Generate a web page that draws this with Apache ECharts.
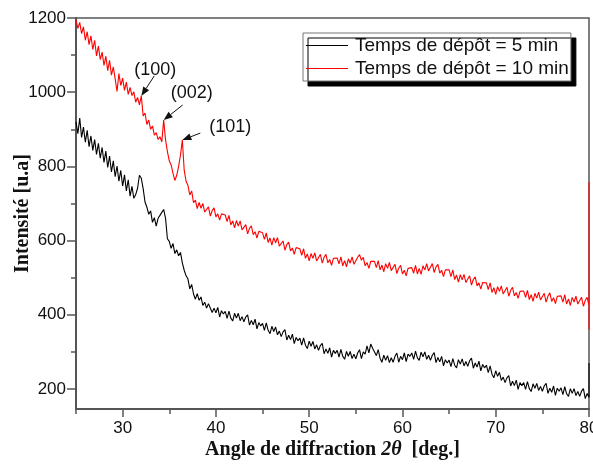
<!DOCTYPE html>
<html>
<head>
<meta charset="utf-8">
<script src="https://cdn.jsdelivr.net/npm/echarts@6/dist/echarts.min.js"></script>
<style>
  html, body { margin: 0; padding: 0; background: #fff; }
  #chart { width: 593px; height: 464px; }
</style>
</head>
<body>
<div id="chart"></div>
<script>
// XRD scans, 2θ from 25° to 80° in 0.2° steps
const angleStart = 25;
const angleStep = 0.2;

// Deposition time 5 min
const intensity5min = [
  920, 888, 930, 878, 906, 865, 897, 853, 882, 843,
  872, 832, 862, 822, 851, 811, 841, 797, 828, 785,
  815, 772, 801, 760, 789, 747, 777, 734, 764, 720,
  746, 714, 724, 741, 776, 768, 740, 704, 690, 671,
  680, 649, 662, 639, 660, 668, 676, 684, 660, 605,
  598, 579, 592, 565, 575, 559, 568, 540, 520, 505,
  497, 470, 482, 456, 442, 457, 439, 448, 425, 434,
  418, 430, 435, 406, 418, 405, 420, 394, 411, 402,
  409, 390, 410, 391, 383, 404, 391, 404, 384, 395,
  381, 394, 400, 372, 385, 373, 388, 362, 379, 370,
  377, 358, 378, 358, 349, 369, 355, 367, 346, 356,
  341, 354, 360, 332, 345, 333, 348, 322, 339, 330,
  337, 318, 338, 318, 309, 329, 315, 328, 308, 319,
  304, 317, 323, 295, 308, 296, 311, 286, 304, 296,
  304, 286, 307, 288, 280, 301, 288, 301, 282, 294,
  281, 297, 306, 282, 300, 294, 316, 297, 321, 310,
  313, 290, 306, 283, 272, 291, 277, 290, 271, 284,
  272, 288, 297, 272, 288, 279, 297, 274, 294, 288,
  297, 280, 302, 284, 277, 299, 287, 300, 280, 291,
  277, 291, 298, 271, 285, 273, 288, 262, 279, 270,
  278, 260, 282, 264, 257, 279, 267, 281, 262, 274,
  261, 276, 283, 256, 270, 259, 275, 249, 266, 257,
  264, 244, 262, 240, 230, 249, 234, 245, 223, 232,
  217, 230, 236, 208, 221, 209, 224, 199, 217, 209,
  217, 199, 220, 201, 193, 214, 202, 215, 196, 207,
  194, 208, 215, 188, 202, 191, 208, 183, 202, 194,
  203, 185, 206, 187, 180, 201, 188, 201, 182, 193,
  180, 194, 201, 174, 188, 177
];
// detector readings recorded at the final angle
const tail5min = [270, 178];

// Deposition time 10 min
const intensity10min = [
  1195, 1172, 1188, 1158, 1176, 1140, 1163, 1128, 1152, 1115,
  1140, 1098, 1124, 1088, 1108, 1072, 1097, 1058, 1086, 1046,
  1068, 1036, 1002, 1050, 1018, 1038, 1005, 1027, 994, 1013,
  991, 1001, 973, 986, 966, 990, 936, 944, 913, 925,
  900, 909, 884, 891, 873, 880, 866, 925, 872, 840,
  815, 804, 781, 762, 776, 800, 830, 871, 790, 760,
  749, 723, 734, 702, 709, 686, 703, 687, 700, 677,
  676, 691, 666, 681, 688, 664, 672, 655, 672, 672,
  669, 651, 668, 642, 653, 634, 654, 639, 653, 629,
  628, 643, 618, 633, 640, 616, 624, 607, 625, 626,
  621, 603, 621, 595, 607, 588, 608, 594, 608, 585,
  584, 599, 574, 589, 596, 572, 580, 563, 581, 582,
  578, 560, 578, 552, 564, 545, 565, 552, 567, 545,
  547, 563, 539, 555, 563, 540, 549, 533, 552, 554,
  553, 537, 556, 532, 546, 529, 551, 539, 556, 536,
  539, 555, 562, 547, 555, 532, 541, 525, 544, 546,
  544, 527, 546, 521, 534, 516, 538, 525, 541, 519,
  521, 536, 511, 526, 533, 510, 520, 505, 525, 528,
  527, 512, 533, 510, 525, 509, 532, 521, 538, 518,
  522, 538, 514, 529, 536, 512, 520, 503, 521, 523,
  521, 503, 521, 495, 507, 488, 508, 494, 509, 487,
  490, 505, 480, 495, 502, 478, 486, 469, 487, 489,
  486, 468, 486, 460, 473, 455, 476, 463, 478, 456,
  458, 474, 450, 466, 474, 451, 460, 444, 463, 466,
  464, 447, 466, 441, 454, 436, 458, 445, 461, 440,
  442, 458, 434, 450, 459, 436, 446, 430, 450, 452,
  451, 434, 454, 429, 443, 425, 447, 434, 450, 429,
  431, 447, 423, 439, 447, 425
];
const tail10min = [758, 360];

const seriesNames = ['Temps de dépôt = 5 min', 'Temps de dépôt = 10 min'];

// Axis ticks
const xLabelValues = [30, 40, 50, 60, 70, 80];
const xMinorValues = [25, 35, 45, 55, 65, 75];
const yLabelValues = [200, 400, 600, 800, 1000, 1200];
const yMinorValues = [300, 500, 700, 900, 1100];
const xMin = 25, xMax = 80, yMin = 146, yMax = 1200;

// Reflection labels on the 10 min scan
const peakLabels = ['(100)', '(002)', '(101)'];
const peakAngles = [32.0, 34.4, 36.4];

function toPairs(values, tail) {
  const pts = values.map((v, i) => [+(angleStart + i * angleStep).toFixed(2), v]);
  const last = pts[pts.length - 1][0];
  tail.forEach(v => pts.push([last, v]));
  return pts;
}

const data5 = toPairs(intensity5min, tail5min);
const data10 = toPairs(intensity10min, tail10min);

const axisColor = '#555';
const labelFont = { fontFamily: 'Liberation Sans, Arial, sans-serif', fontSize: 17, color: '#111' };
const titleFont = { fontFamily: 'Liberation Serif, Times New Roman, serif', fontSize: 20, fontWeight: 'bold', color: '#111' };
const plainNumber = v => String(v);

const chart = echarts.init(document.getElementById('chart'), null, { renderer: 'canvas' });

chart.setOption({
  animation: false,
  backgroundColor: '#fff',
  grid: {
    left: 76, right: 4, top: 18, bottom: 55,
    containLabel: false,
    outerBoundsMode: 'none',
    show: true, borderColor: axisColor, borderWidth: 1.5, backgroundColor: 'transparent'
  },
  legend: {
    data: seriesNames,
    orient: 'vertical',
    left: 303, top: 33,
    padding: [3, 2, 3, 3],
    itemGap: 4,
    icon: 'rect',
    itemWidth: 42,
    itemHeight: 1.2,
    backgroundColor: '#fff',
    borderColor: '#777',
    borderWidth: 1,
    borderRadius: 0,
    shadowColor: '#000',
    shadowBlur: 0,
    shadowOffsetX: 5,
    shadowOffsetY: 5,
    textStyle: { fontFamily: 'Liberation Sans, Arial, sans-serif', fontSize: 19, color: '#111', padding: [0, 0, 0, 2] }
  },
  xAxis: [{
    type: 'value', min: xMin, max: xMax,
    axisLine: { show: true, lineStyle: { color: axisColor, width: 2 } },
    axisTick: { show: true, inside: false, length: 8, customValues: xLabelValues, lineStyle: { color: axisColor, width: 1.5 } },
    axisLabel: { customValues: xLabelValues, margin: 11, formatter: plainNumber, ...labelFont },
    splitLine: { show: false },
    name: '{b|Angle de diffraction }{i|2θ}{b|  [deg.]}',
    nameLocation: 'middle',
    nameGap: 31,
    nameMoveOverlap: false,
    nameTextStyle: {
      rich: {
        b: { ...titleFont },
        i: { ...titleFont, fontStyle: 'italic' }
      }
    }
  }, {
    type: 'value', min: xMin, max: xMax, position: 'bottom',
    axisLine: { show: false },
    axisTick: { show: true, inside: false, length: 5, customValues: xMinorValues, lineStyle: { color: axisColor, width: 1.5 } },
    axisLabel: { show: false },
    splitLine: { show: false }
  }],
  yAxis: [{
    type: 'value', min: yMin, max: yMax,
    axisLine: { show: true, lineStyle: { color: axisColor, width: 2 } },
    axisTick: { show: true, inside: false, length: 9, customValues: yLabelValues, lineStyle: { color: axisColor, width: 1.5 } },
    axisLabel: { customValues: yLabelValues, margin: 10, formatter: plainNumber, ...labelFont },
    splitLine: { show: false },
    name: 'Intensité [u.a]',
    nameLocation: 'middle',
    nameGap: 43,
    nameMoveOverlap: false,
    nameTextStyle: { ...titleFont }
  }, {
    type: 'value', min: yMin, max: yMax, position: 'left',
    axisLine: { show: false },
    axisTick: { show: true, inside: false, length: 5, customValues: yMinorValues, lineStyle: { color: axisColor, width: 1.5 } },
    axisLabel: { show: false },
    splitLine: { show: false }
  }],
  series: [{
    name: seriesNames[0],
    type: 'line',
    data: data5,
    symbol: 'none',
    lineStyle: { color: '#000', width: 1.1 },
    itemStyle: { color: '#000' },
    clip: true
  }, {
    name: seriesNames[1],
    type: 'line',
    data: data10,
    symbol: 'none',
    lineStyle: { color: '#ff0000', width: 1.1 },
    itemStyle: { color: '#ff0000' },
    clip: true
  }]
});

// Arrows and Miller-index labels for the peaks of the 10 min scan
const arrowOffsets = [[13, -20], [19, -15], [18, -7]];
const textOffsets = [[-7, -17], [7, -18], [27, -4]];
const graphics = [];
peakLabels.forEach((lbl, k) => {
  const idx = Math.round((peakAngles[k] - angleStart) / angleStep);
  const tip = chart.convertToPixel({ gridIndex: 0 }, [peakAngles[k], intensity10min[idx]]);
  const tail = [tip[0] + arrowOffsets[k][0], tip[1] + arrowOffsets[k][1]];
  const ang = Math.atan2(tip[1] - tail[1], tip[0] - tail[0]);
  const headLen = 9, headHalf = 3.5;
  const bx = tip[0] - headLen * Math.cos(ang), by = tip[1] - headLen * Math.sin(ang);
  const nx = -Math.sin(ang) * headHalf, ny = Math.cos(ang) * headHalf;
  graphics.push({
    type: 'line', silent: true,
    shape: { x1: tail[0], y1: tail[1], x2: bx, y2: by },
    style: { stroke: '#111', lineWidth: 1 }
  });
  graphics.push({
    type: 'polygon', silent: true,
    shape: { points: [[tip[0], tip[1]], [bx + nx, by + ny], [bx - nx, by - ny]] },
    style: { fill: '#111' }
  });
  graphics.push({
    type: 'text', silent: true,
    x: tip[0] + textOffsets[k][0], y: tip[1] + textOffsets[k][1],
    style: {
      text: lbl, fill: '#111',
      font: '18px "Liberation Sans", Arial, sans-serif',
      align: 'left', verticalAlign: 'bottom'
    }
  });
});
chart.setOption({ graphic: graphics });
</script>
</body>
</html>
